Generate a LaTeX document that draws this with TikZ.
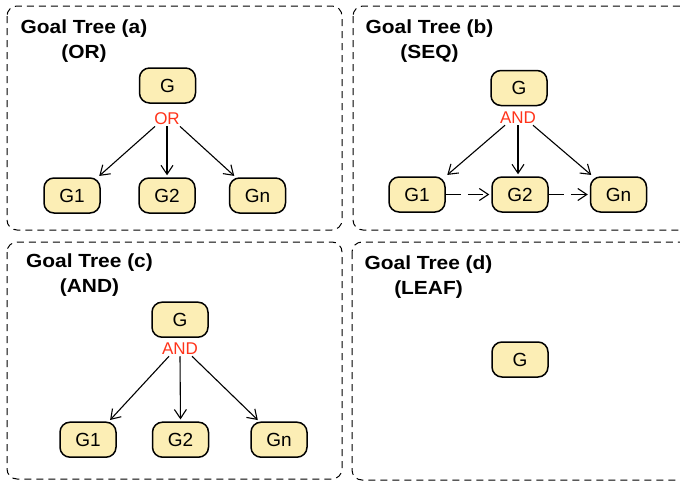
\documentclass[tikz,border=0pt]{standalone}
\usepackage{fontspec}
\setmainfont{Liberation Sans}
\newfontfamily\headfont[FakeStretch=1.1]{Liberation Sans}
\usetikzlibrary{arrows.meta,calc}
\definecolor{goalfill}{RGB}{252,238,181}
\definecolor{opred}{RGB}{255,51,26}
\tikzset{
	goal/.style={draw,line width=0.75pt,fill=goalfill,rounded corners=5pt,minimum width=28pt,minimum height=17.5pt,inner sep=0pt,font=\fontsize{9.5}{11}\selectfont},
	panel/.style={draw,dash pattern=on 3.5pt off 2.5pt,line width=0.5pt,rounded corners=5pt},
	opname/.style={text=opred,inner sep=0.5pt,font=\fontsize{8.5}{10}\selectfont},
	paneltitle/.style={align=center,anchor=north,inner sep=0pt,font=\headfont\bfseries\fontsize{9.5}{12.5}\selectfont},
	treearrow/.style={-{Straight Barb[length=4.5pt,width=6pt]},line width=0.55pt,shorten >=1pt},
	seqarrow/.style={treearrow,dash pattern=on 7.5pt off 3.5pt}
}
\begin{document}
\begin{tikzpicture}[x=0.5pt,y=-0.5pt]
\useasboundingbox (0,0) rectangle (680,482);
\draw[panel] (7,6) rectangle (342,230);
\draw[panel] (353,6) rectangle (700,230);
\draw[panel] (7,242) rectangle (342,479);
\draw[panel] (352,242) rectangle (700,480);
\node[paneltitle] (ta) at (84,19.5) {Goal Tree (a)\\(OR)};
\node[paneltitle] (tb) at (429.5,19.5) {Goal Tree (b)\\(SEQ)};
\node[paneltitle] (tc) at (89.5,253.5) {Goal Tree (c)\\(AND)};
\node[paneltitle] (td) at (428.5,255) {Goal Tree (d)\\(LEAF)};
% (a) OR
\node[goal] (ag) at (167.5,85.5) {G};
\node[opname] (aop) at (167,119) {OR};
\node[goal] (a1) at (72,195.5) {G1};
\node[goal] (a2) at (167,195.5) {G2};
\node[goal] (an) at (257.5,195.5) {Gn};
\draw[treearrow] ($(aop.south)+(-12,0)$) -- ($(a1.north east)+(-3,0)$);
\draw[treearrow] (aop.south) -- (a2.north);
\draw[treearrow] ($(aop.south)+(13,0)$) -- ($(an.north west)+(7,0)$);
% (b) SEQ
\node[goal] (bg) at (519,88) {G};
\node[opname] (bop) at (518,118) {AND};
\node[goal] (b1) at (417,194.5) {G1};
\node[goal] (b2) at (520,194.5) {G2};
\node[goal] (bn) at (618.5,194.5) {Gn};
\draw[treearrow] ($(bop.south)+(-13,0)$) -- (b1.north east);
\draw[treearrow] (bop.south) -- (bop.south|-b2.north);
\draw[treearrow] ($(bop.south)+(15,0)$) -- ($(bn.north west)+(3,0)$);
\draw[seqarrow] (b1) -- (b2);
\draw[seqarrow] (b2) -- (bn);
% (c) AND
\node[goal] (cg) at (180,319.7) {G};
\node[opname] (cop) at (180,349) {AND};
\node[goal] (c1) at (88,439.7) {G1};
\node[goal] (c2) at (180.5,439.7) {G2};
\node[goal] (cn) at (279,439.7) {Gn};
\draw[treearrow] ($(cop.south)+(-11,0)$) -- ($(c1.north east)+(-8,0)$);
\draw[treearrow] (cop.south) -- (c2.north);
\draw[treearrow] ($(cop.south)+(12,0)$) -- ($(cn.north west)+(9,0)$);
% (d) LEAF
\node[goal] (dg) at (520,359.5) {G};
\end{tikzpicture}
\end{document}
